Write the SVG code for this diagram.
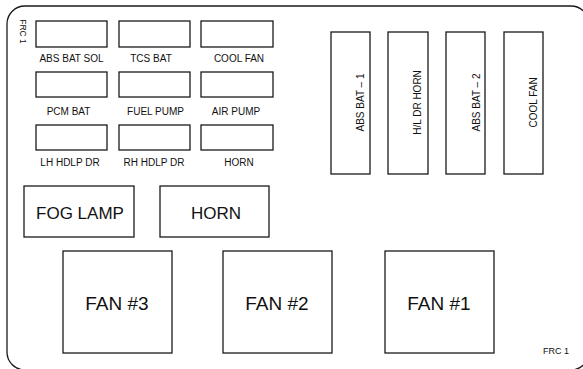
<svg xmlns="http://www.w3.org/2000/svg" width="583" height="369" viewBox="0 0 583 369">
<style>
.b{fill:#fff;stroke:#1a1a1a;stroke-width:1.3}
.t{font-family:"Liberation Sans",Arial,sans-serif;fill:#111;text-anchor:middle}
.s{font-size:10px}
.m{font-size:17px}
.l{font-size:19px}
</style>
<rect width="583" height="369" fill="#fff"/>
<g id="frame">
<rect x="7" y="6" width="582" height="364" rx="18" ry="18" fill="none" stroke="#1a1a1a" stroke-width="1.3"/>
<text class="t" style="font-size:8.5px" transform="translate(19.5,31.5) rotate(90)">FRC 1</text>
<text class="t" style="font-size:9px" x="556" y="353.5">FRC 1</text>
</g>
<g id="abs-bat-sol"><rect class="b" x="36" y="21" width="71" height="26"/><text class="t s" x="71.5" y="61.5">ABS BAT SOL</text></g>
<g id="tcs-bat"><rect class="b" x="119" y="21" width="71" height="26"/><text class="t s" x="151" y="61.5">TCS BAT</text></g>
<g id="cool-fan-small"><rect class="b" x="201" y="21" width="72" height="26"/><text class="t s" x="239" y="61.5">COOL FAN</text></g>
<g id="pcm-bat"><rect class="b" x="36" y="72" width="71" height="25"/><text class="t s" x="68.5" y="114.5">PCM BAT</text></g>
<g id="fuel-pump"><rect class="b" x="119" y="72" width="71" height="25"/><text class="t s" x="155.5" y="114.5">FUEL PUMP</text></g>
<g id="air-pump"><rect class="b" x="201" y="72" width="72" height="25"/><text class="t s" x="236" y="114.5">AIR PUMP</text></g>
<g id="lh-hdlp-dr"><rect class="b" x="36" y="125" width="71" height="25"/><text class="t s" x="70" y="166">LH HDLP DR</text></g>
<g id="rh-hdlp-dr"><rect class="b" x="119" y="125" width="71" height="25"/><text class="t s" x="154" y="166">RH HDLP DR</text></g>
<g id="horn-small"><rect class="b" x="201" y="125" width="72" height="25"/><text class="t s" x="239" y="166">HORN</text></g>
<g id="abs-bat-1"><rect class="b" x="331" y="32" width="39" height="142"/><text class="t s" transform="translate(363.6,102.5) rotate(-90)">ABS BAT – 1</text></g>
<g id="hl-dr-horn"><rect class="b" x="388" y="32" width="40" height="142"/><text class="t s" transform="translate(420.6,102.5) rotate(-90)">H/L DR HORN</text></g>
<g id="abs-bat-2"><rect class="b" x="446" y="32" width="39" height="142"/><text class="t s" transform="translate(479.6,102.5) rotate(-90)">ABS BAT – 2</text></g>
<g id="cool-fan-large"><rect class="b" x="504" y="32" width="39" height="142"/><text class="t s" transform="translate(536.6,102.5) rotate(-90)">COOL FAN</text></g>
<g id="fog-lamp"><rect class="b" x="24" y="186" width="110" height="51"/><text class="t m" x="80" y="219">FOG LAMP</text></g>
<g id="horn-large"><rect class="b" x="160" y="186" width="109" height="51"/><text class="t m" x="216" y="219">HORN</text></g>
<g id="fan-3"><rect class="b" x="63" y="251" width="109" height="102"/><text class="t l" x="117" y="310">FAN #3</text></g>
<g id="fan-2"><rect class="b" x="223" y="251" width="109" height="102"/><text class="t l" x="277" y="310">FAN #2</text></g>
<g id="fan-1"><rect class="b" x="385" y="251" width="109" height="102"/><text class="t l" x="439" y="310">FAN #1</text></g>
<g id="connectors"></g>
</svg>
